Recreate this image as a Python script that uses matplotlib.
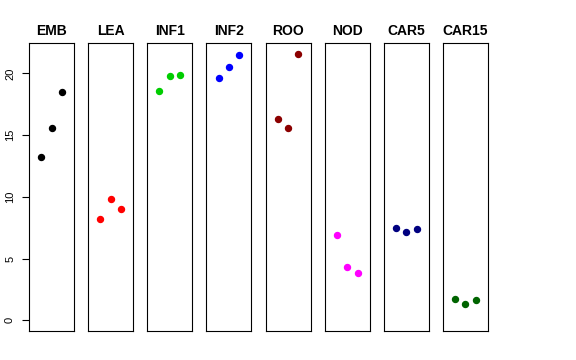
import matplotlib
matplotlib.use("Agg")
import matplotlib.pyplot as plt

plt.rcParams['font.family'] = ['Liberation Sans', 'DejaVu Sans']

tissues = ['EMB', 'LEA', 'INF1', 'INF2', 'ROO', 'NOD', 'CAR5', 'CAR15']
colors = ['black', 'red', '#00cd00', 'blue', '#8b0000', 'magenta', '#000080', '#006400']
reps = [1, 2, 3]
emb = [13.2, 15.6, 18.5]
lea = [8.2, 9.8, 9.05]
inf1 = [18.6, 19.8, 19.9]
inf2 = [19.6, 20.5, 21.5]
roo = [16.3, 15.6, 21.6]
nod = [6.95, 4.3, 3.8]
car5 = [7.5, 7.15, 7.4]
car15 = [1.73, 1.32, 1.68]
values = [emb, lea, inf1, inf2, roo, nod, car5, car15]

fig, axes = plt.subplots(1, 8, sharey=True, figsize=(5.76, 3.6), dpi=100,
                         gridspec_kw=dict(wspace=0.314))
fig.subplots_adjust(left=29 / 576, right=488 / 576, bottom=29 / 360, top=317 / 360)

ymax = max(max(v) for v in values)
for ax, name, col, vals in zip(axes, tissues, colors, values):
    ax.plot(reps, vals, 'o', color=col, ms=4.3, mec=col)
    ax.set_xlim(-0.16, 4.16)
    ax.set_title(name, fontsize=10, fontweight='bold', pad=6)
    ax.set_xticks([])
    for s in ax.spines.values():
        s.set_linewidth(0.8)
    ax.tick_params(axis='y', left=False, labelleft=False)

# R-style 4% padding around 0..max
axes[0].set_ylim(-0.04 * ymax, ymax * 1.04)
axes[0].set_yticks([0, 5, 10, 15, 20])
axes[0].tick_params(axis='y', left=True, labelleft=True, length=5, width=0.8,
                    pad=5, labelsize=8)
for lab in axes[0].get_yticklabels():
    lab.set_rotation(90)
    lab.set_va('center')

fig.savefig('out.png', dpi=100)
